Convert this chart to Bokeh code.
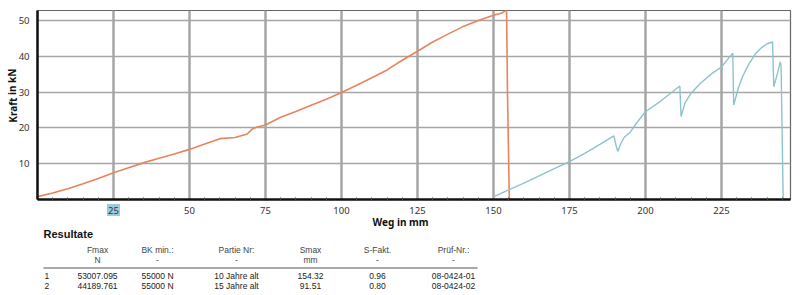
from bokeh.plotting import figure
from bokeh.layouts import column, row
from bokeh.models import FixedTicker, Range1d
from bokeh.core.properties import value
from bokeh.embed import file_html
from bokeh.resources import INLINE

# ---- curve data (Weg in mm, Kraft in kN) ----
s1_x = [0, 5, 10, 15, 20, 25, 30, 35, 40, 45, 50, 55, 60, 65, 69, 70.5, 72, 75,
        80, 85, 90, 95, 100, 105, 110, 115, 120, 125, 130, 135, 140, 145, 150,
        152, 153, 154.3, 154.6, 155.2, 155.5, 159]
s1_y = [0.8, 1.8, 3.0, 4.4, 5.9, 7.5, 8.9, 10.3, 11.5, 12.7, 14.0, 15.5, 17.0,
        17.3, 18.3, 19.6, 20.2, 20.8, 23.0, 24.6, 26.3, 28.0, 29.9, 31.9, 34.0,
        36.2, 38.9, 41.4, 44.0, 46.2, 48.3, 50.0, 51.5, 51.9, 52.2, 53.0, 30.0,
        0.5, 0.0, 0.0]

s2_x = [150.3, 155, 160, 165, 170, 175, 180, 185, 189.6, 190.4, 190.9, 191.8,
        193, 195, 197, 200, 205, 211.3, 211.7, 213, 215, 218, 222, 225, 228.7,
        229, 230.5, 232, 234, 236, 238, 240, 241.8, 242.2, 243.5, 244.3, 244.6,
        245.1, 245.3, 246.5]
s2_y = [0.9, 2.7, 4.6, 6.6, 8.6, 10.6, 12.9, 15.4, 17.8, 14.8, 13.4, 15.5, 17.4,
        18.8, 21.3, 24.5, 27.5, 31.7, 23.2, 27.0, 29.7, 32.4, 35.3, 37.0, 40.9,
        26.4, 31.0, 34.5, 37.8, 40.5, 42.3, 43.5, 44.0, 31.5, 35.5, 38.4, 37.5,
        10.0, 0.0, 0.0]

x_ticks = [25, 50, 75, 100, 125, 150, 175, 200, 225]
x_tick_labels = [str(v) for v in x_ticks]
x_minor = [v for v in range(5, 250, 5) if v % 25 != 0]
y_ticks = [10, 20, 30, 40, 50]
y_tick_labels = [str(v) for v in y_ticks]
highlight_tick = [25]

# ---- results table ----
hdr1 = ["Fmax", "BK min.:", "Partie Nr:", "Smax", "S-Fakt.", "Prüf-Nr.:"]
hdr2 = ["N", "-", "-", "mm", "-", "-"]
row_ids = ["1", "2"]
fmax = ["53007.095", "44189.761"]
bkmin = ["55000 N", "55000 N"]
partie = ["10 Jahre alt", "15 Jahre alt"]
smax = ["154.32", "91.51"]
sfakt = ["0.96", "0.80"]
pruef = ["08-0424-01", "08-0424-02"]

ORANGE = "#e8845c"
BLUE = "#8cc4cc"
FONT = "Noto Sans"
TFONT = "Liberation Sans"

# frame of the chart spans x = 37 .. 790 px, y = 10 .. 199 px
X0, X1 = 0.0, 247.7
Y0, Y1 = 0.0, 52.8
LEFT, RIGHT, TOPB, BOTB = 37, 10, 10, 4
CH = 203          # chart row height
YW = 30           # width of the y-label strip
SCALE = (800 - LEFT - RIGHT) / (X1 - X0)


def px2x(px):
    return X0 + (px - LEFT) / SCALE


# ---- left strip: y tick labels and y title ----
yf = figure(width=YW, height=CH, output_backend="svg", toolbar_location=None,
            x_range=Range1d(0, YW), y_range=Range1d(Y0, Y1),
            min_border_left=0, min_border_right=0, min_border_top=TOPB,
            min_border_bottom=BOTB, background_fill_color="white",
            border_fill_color="white")
yf.axis.visible = False
yf.grid.visible = False
yf.outline_line_color = None
yf.text(x=[29] * len(y_ticks), y=y_ticks, text=y_tick_labels,
        text_font=value(FONT), text_font_size="9.5px", text_color="#333333",
        text_align="right", text_baseline="middle")
yf.text(x=[12], y=[29.0], text=["Kraft in kN"], angle=1.5708,
        text_font=value(FONT), text_font_size="10px", text_font_style="bold",
        text_color="#111111", text_align="center", text_baseline="middle")

# ---- chart ----
p = figure(width=800 - YW, height=CH, output_backend="svg",
           toolbar_location=None,
           x_range=Range1d(X0, X1), y_range=Range1d(Y0, Y1),
           min_border_left=LEFT - YW, min_border_right=RIGHT,
           min_border_top=TOPB, min_border_bottom=BOTB,
           background_fill_color="white", border_fill_color="white")
p.outline_line_color = "#666666"
p.outline_line_width = 1.2

p.xaxis.ticker = FixedTicker(ticks=[], minor_ticks=x_minor)
p.yaxis.ticker = FixedTicker(ticks=[], minor_ticks=[])
for ax in (p.xaxis[0], p.yaxis[0]):
    ax.axis_line_color = "#111111"
    ax.axis_line_width = 2.5
    ax.major_tick_line_color = None
    ax.major_label_standoff = 0
p.xaxis.minor_tick_in = 2
p.xaxis.minor_tick_out = 1
p.xaxis.minor_tick_line_color = "#444444"
p.yaxis.minor_tick_line_color = None

p.xgrid.ticker = FixedTicker(ticks=x_ticks)
p.xgrid.grid_line_color = "#a6a6a6"
p.xgrid.grid_line_width = 2.5
p.ygrid.ticker = FixedTicker(ticks=y_ticks)
p.ygrid.grid_line_color = "#a6a6a6"
p.ygrid.grid_line_width = 1.5

p.line(s1_x, s1_y, line_color=ORANGE, line_width=1.6)
p.line(s2_x, s2_y, line_color=BLUE, line_width=1.4)

# ---- lower part: x tick labels, x title, results table ----
t = figure(width=800, height=295 - CH, output_backend="svg",
           toolbar_location=None,
           x_range=Range1d(px2x(0), px2x(800)), y_range=Range1d(295, CH),
           min_border=0, min_border_left=0, min_border_right=0,
           min_border_top=0, min_border_bottom=0,
           background_fill_color="white", border_fill_color="white")
t.axis.visible = False
t.grid.visible = False
t.outline_line_color = None

t.rect(x=highlight_tick, y=[209.5], width=13, height=12, width_units="screen",
       height_units="screen", fill_color="#9ccbe0", line_color=None)
t.text(x=x_ticks, y=[209.5] * len(x_ticks), text=x_tick_labels,
       text_font=value(FONT), text_font_size="9.5px", text_color="#333333",
       text_align="center", text_baseline="middle")
t.text(x=[px2x(400)], y=[221], text=["Weg in mm"], text_font=value(FONT),
       text_font_size="10px", text_font_style="bold", text_color="#111111",
       text_align="center", text_baseline="middle")

col_px = [97, 157, 236, 310, 377, 453]
col_x = [px2x(v) for v in col_px]
t.text(x=[px2x(43)], y=[233], text=["Resultate"], text_font=value(TFONT),
       text_font_size="11px", text_font_style="bold", text_color="#111111",
       text_baseline="middle")
t.text(x=col_x, y=[249] * 6, text=hdr1, text_font=value(TFONT),
       text_font_size="8.5px", text_color="#444444", text_align="center",
       text_baseline="middle")
t.text(x=col_x, y=[259] * 6, text=hdr2, text_font=value(TFONT),
       text_font_size="8.5px", text_color="#444444", text_align="center",
       text_baseline="middle")
t.segment(x0=[px2x(43)], y0=[267.5], x1=[px2x(477)], y1=[267.5],
          line_color="#555555", line_width=1.2)

row_y = [275.5, 285.5]
t.text(x=[px2x(44)] * 2, y=row_y, text=row_ids, text_font=value(TFONT),
       text_font_size="8.5px", text_color="#222222", text_baseline="middle")
for cx, vals in zip(col_x, [fmax, bkmin, partie, smax, sfakt, pruef]):
    t.text(x=[cx, cx], y=row_y, text=vals, text_font=value(TFONT),
           text_font_size="8.5px", text_color="#222222", text_align="center",
           text_baseline="middle")

layout = column(row(yf, p, spacing=0), t, spacing=0)
open("out.html", "w").write(file_html(layout, INLINE))
